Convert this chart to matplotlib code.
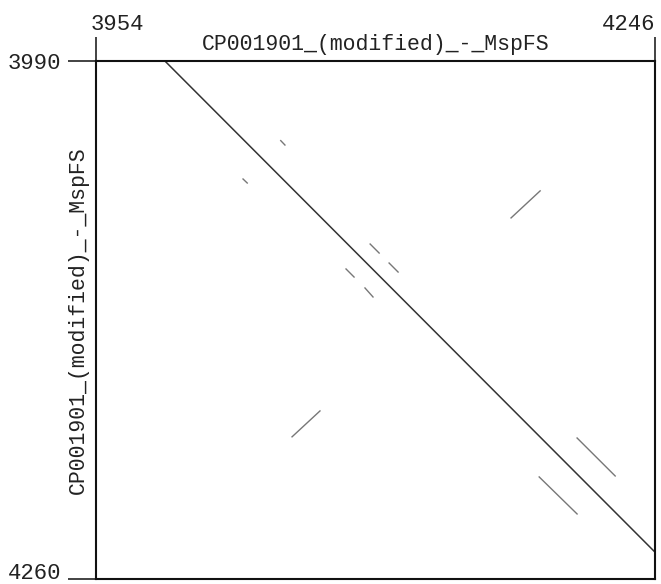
import matplotlib.pyplot as plt
from matplotlib.transforms import ScaledTranslation

# Dotplot of CP001901 (modified) - MspFS against itself
x_range = [3954, 4246]
y_range = [3990, 4260]
name = "CP001901_(modified)_-_MspFS"

# main diagonal (self match)
diag_x = [3990, 4246]
diag_y = [3990, 4246]

# shorter matching segments: (x0, y0, x1, y1)
segments = [
    (4050.5, 4031.5, 4052.7, 4033.8),
    (4030.8, 4051.5, 4033.0, 4053.6),
    (4097.2, 4085.4, 4101.9, 4090.1),
    (4107.1, 4095.3, 4111.8, 4100.0),
    (4084.6, 4098.4, 4088.8, 4102.6),
    (4094.5, 4108.3, 4098.7, 4113.0),
    (4056.4, 4185.9, 4071.0, 4172.4),
    (4170.8, 4071.8, 4186.0, 4057.7),
    (4205.3, 4186.5, 4225.2, 4206.3),
    (4185.5, 4206.8, 4205.3, 4226.1),
]

plt.rcParams['font.family'] = ['Liberation Mono', 'DejaVu Sans Mono']

fig = plt.figure(figsize=(6.61, 5.84), dpi=100)
ax = fig.add_axes([96/661, 1 - 579/584, 559/661, 518/584])

ax.plot(diag_x, diag_y, color='#333333', lw=1.1)
for x0, y0, x1, y1 in segments:
    ax.plot([x0, x1], [y0, y1], color='#777777', lw=1.0)

ax.set_xlim(x_range)
ax.set_ylim(y_range[1], y_range[0])

ax.xaxis.tick_top()
ax.set_xticks(x_range)
ax.set_yticks(y_range)
ax.tick_params(axis='x', direction='out', length=17, width=1.2, pad=1.5,
               labelsize=16, colors='#222222')
ax.tick_params(axis='y', direction='out', length=20, width=1.2, pad=5,
               labelsize=16, colors='#222222')
xl = ax.get_xticklabels()
xl[0].set_ha('left')
xl[0].set_transform(xl[0].get_transform() + ScaledTranslation(-0.05, 0, fig.dpi_scale_trans))
xl[1].set_ha('right')
yl = ax.get_yticklabels()
yl[1].set_va('baseline')

for s in ax.spines.values():
    s.set_linewidth(1.5)
    s.set_color('#111111')

ax.set_title(name, y=1.0, pad=8, fontsize=15.5, color='#222222')
ax.set_ylabel(name, fontsize=15.5, color='#222222')
ax.yaxis.set_label_coords(-0.012, 0.5)

fig.savefig('out.png', dpi=100)
